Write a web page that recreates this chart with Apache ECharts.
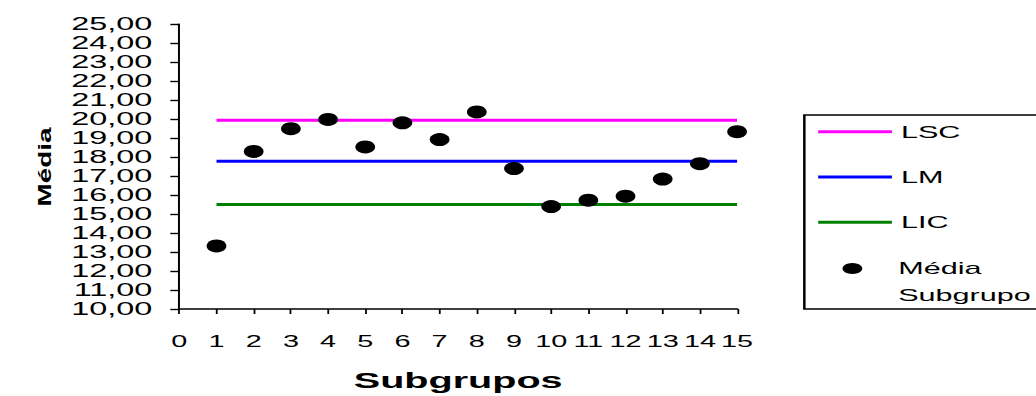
<!DOCTYPE html>
<html>
<head>
<meta charset="utf-8">
<script src="https://cdn.jsdelivr.net/npm/echarts@6/dist/echarts.min.js"></script>
<style>
  html, body { margin: 0; padding: 0; background: #fff; overflow: hidden; }
  #wrap { width: 1036px; height: 396px; overflow: hidden; position: relative; }
  /* the chart is laid out on a narrow canvas and widened, giving the wide lettering and oval markers */
  #chart { width: 576px; height: 396px; transform-origin: 0 0; transform: scaleX(1.798611); }
</style>
</head>
<body>
<div id="wrap"><div id="chart"></div></div>
<script>
// Subgroup numbers and their means
const subgroups = [1, 2, 3, 4, 5, 6, 7, 8, 9, 10, 11, 12, 13, 14, 15];
const subgroupMeans = [13.32, 18.29, 19.49, 19.98, 18.53, 19.80, 18.92, 20.37, 17.39, 15.39, 15.73, 15.94, 16.84, 17.65, 19.33];

// Control limits: upper, centre, lower
const limitNames = ['LSC', 'LM', 'LIC'];
const limitValues = [19.93, 17.78, 15.50];
const limitColors = ['#FF00FF', '#0000FF', '#008000'];

const meanName = 'Média Subgrupo';
const FONT = '"Liberation Sans", Arial, sans-serif';
const SX = 1036 / 576;

const chart = echarts.init(document.getElementById('chart'), null, { renderer: 'svg' });

const firstX = subgroups[0];
const lastX = subgroups[subgroups.length - 1];

const limitSeries = limitNames.map((name, i) => ({
  name: name,
  type: 'line',
  symbol: 'none',
  silent: true,
  z: 2,
  data: [[firstX, limitValues[i]], [lastX, limitValues[i]]],
  lineStyle: { color: limitColors[i], width: 3 },
  itemStyle: { color: limitColors[i] }
}));

const meanSeries = {
  name: meanName,
  type: 'scatter',
  symbol: 'circle',
  symbolSize: [11, 13],
  z: 5,
  data: subgroups.map((s, i) => [s, subgroupMeans[i]]),
  itemStyle: { color: '#000000', opacity: 1 }
};

chart.setOption({
  animation: false,
  backgroundColor: '#ffffff',
  textStyle: { fontFamily: FONT, color: '#000' },
  grid: { left: 99.7, right: 166.2, top: 24, bottom: 82.7, containLabel: false },
  xAxis: {
    type: 'value',
    min: 0,
    max: 15,
    interval: 1,
    name: 'Subgrupos',
    nameLocation: 'middle',
    nameGap: 60,
    nameTextStyle: { fontFamily: FONT, fontSize: 22, fontWeight: 'bold', color: '#000' },
    axisLine: { show: true, onZero: false, lineStyle: { color: '#000', width: 1.6 } },
    axisTick: { show: true, length: 5, lineStyle: { color: '#000', width: 1 } },
    axisLabel: { fontFamily: FONT, fontSize: 16, color: '#000', margin: 24 },
    splitLine: { show: false }
  },
  yAxis: {
    type: 'value',
    min: 10,
    max: 25,
    interval: 1,
    axisLine: { show: true, onZero: false, lineStyle: { color: '#000', width: 1.1 } },
    axisTick: { show: true, length: 5, lineStyle: { color: '#000', width: 1.4 } },
    axisLabel: {
      fontFamily: FONT, fontSize: 18, color: '#000', margin: 15,
      formatter: v => v.toFixed(2).replace('.', ',')
    },
    splitLine: { show: false }
  },
  legend: [
    {
      data: limitNames,
      orient: 'vertical',
      left: 447.2,
      top: 115,
      padding: [6.7, 60, 76.7, 6.2],
      itemGap: 25.3,
      itemWidth: 41,
      itemHeight: 12,
      selectedMode: false,
      borderColor: '#000',
      borderWidth: 1.4,
      backgroundColor: '#fff',
      itemStyle: { opacity: 0 },
      lineStyle: { width: 3 },
      textStyle: { fontFamily: FONT, fontSize: 17, color: '#000', lineHeight: 20 }
    },
    {
      data: [{ name: meanName, icon: 'circle' }],
      orient: 'vertical',
      left: 468.4,
      top: 228,
      padding: 0,
      itemWidth: 11,
      itemHeight: 12,
      selectedMode: false,
      formatter: name => '\n' + name.replace(' ', '\n'),
      textStyle: { fontFamily: FONT, fontSize: 17, color: '#000', lineHeight: 27, padding: [0, 0, 0, 15] }
    }
  ],
  graphic: [
    {
      type: 'text',
      x: 45 / SX,
      y: 167,
      rotation: Math.PI / 2,
      scaleX: 1.55,
      scaleY: 1 / SX,
      style: {
        text: 'Média',
        font: 'bold 18px ' + FONT,
        fill: '#000',
        align: 'center',
        verticalAlign: 'middle'
      }
    }
  ],
  series: limitSeries.concat([meanSeries])
});
</script>
</body>
</html>
